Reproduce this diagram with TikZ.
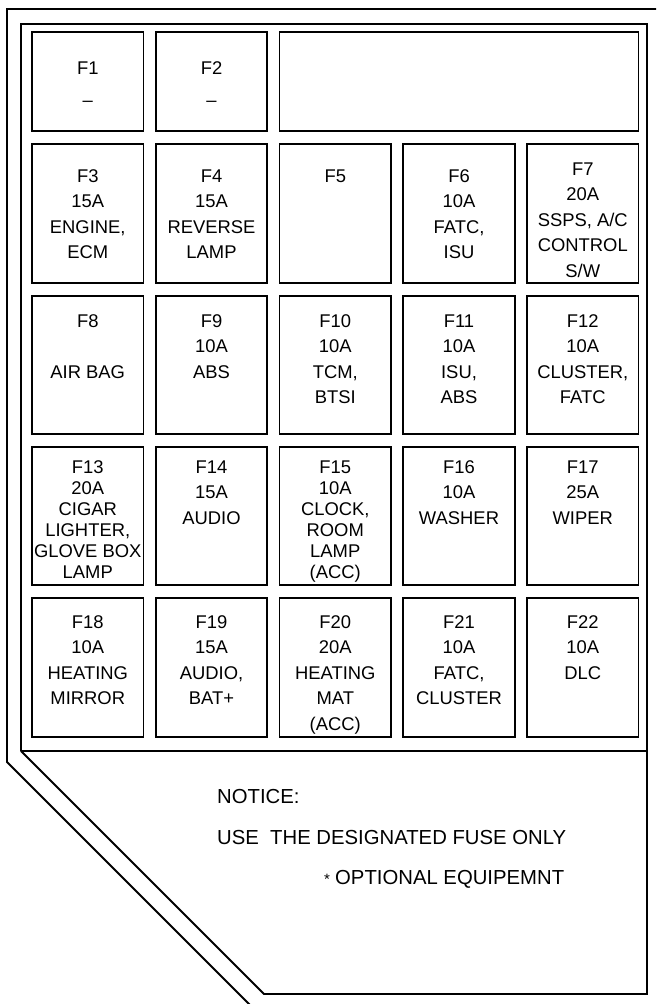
\documentclass[tikz,border=0pt]{standalone}
\usepackage{fontspec}
\setmainfont{Liberation Sans}
\newcommand\fzn{\fontsize{18.4}{25.6}\selectfont}
\newcommand\fzt{\fontsize{18.4}{21}\selectfont}
\newcommand\fzb{\fontsize{20.3}{24}\selectfont}
\newcommand\tl[1]{\begin{tabular}[t]{@{}c@{}}#1\end{tabular}}
\tikzset{
  fusebox/.style={draw, rectangle, line width=1.8pt, inner sep=0pt, outer sep=0pt},
  fusetext/.style={inner sep=0pt, anchor=base, font=\fzn},
  tighttext/.style={inner sep=0pt, anchor=base, font=\fzt},
  noticetext/.style={inner sep=0pt, anchor=base west, font=\fzb},
  frameline/.style={line width=1.8pt, line join=miter}
}
\begin{document}
\begin{tikzpicture}[x=1pt,y=-1pt]
\useasboundingbox (0,0) rectangle (656,1004);
\begin{scope}
\clip (0,0) rectangle (656,1004);
% outer frame
\coordinate (otr) at (700,9);
\coordinate (otl) at (7,9);
\coordinate (obl) at (7,762);
\coordinate (obd) at (290,1045);
\draw[frameline] (otr) -- (otl) -- (obl) -- (obd);
\end{scope}
% inner frame
\coordinate (itl) at (21,24);
\coordinate (itr) at (647,24);
\coordinate (ibr) at (647,994);
\coordinate (ibm) at (264,994);
\coordinate (iml) at (21,751);
\coordinate (imr) at (647,751);
\draw[frameline] (iml) -- (itl) -- (itr) -- (ibr) -- (ibm) -- (iml);
\draw[frameline] (iml) -- (imr);

% row 1
\node[fusebox, minimum width=111.5pt, minimum height=99pt] (f1) at (87.75,81.5) {};
\node[fusebox, minimum width=111.5pt, minimum height=99pt] (f2) at (211.5,81.5) {};
\node[fusebox, minimum width=359pt, minimum height=99pt] (fw) at (459,81.5) {};
\node[fusetext] (t1) at (87.75,74.5) {\tl{F1\\[6.5pt]\textendash}};
\node[fusetext] (t2) at (211.5,74.5) {\tl{F2\\[6.5pt]\textendash}};

% row 2
\node[fusebox, minimum width=111.5pt, minimum height=139pt] (f3) at (87.75,213.5) {};
\node[fusebox, minimum width=111.5pt, minimum height=139pt] (f4) at (211.5,213.5) {};
\node[fusebox, minimum width=111.5pt, minimum height=139pt] (f5) at (335.25,213.5) {};
\node[fusebox, minimum width=111.5pt, minimum height=139pt] (f6) at (459,213.5) {};
\node[fusebox, minimum width=111.5pt, minimum height=139pt] (f7) at (582.75,213.5) {};
\node[fusetext] (t3) at (87.75,182) {\tl{F3\\15A\\ENGINE,\\ECM}};
\node[fusetext] (t4) at (211.5,182) {\tl{F4\\15A\\REVERSE\\LAMP}};
\node[fusetext] (t5) at (335.25,182) {\tl{F5}};
\node[fusetext] (t6) at (459,182) {\tl{F6\\10A\\FATC,\\ISU}};
\node[fusetext] (t7) at (582.75,175) {\tl{F7\\20A\\SSPS, A/C\\CONTROL\\S/W}};

% row 3
\node[fusebox, minimum width=111.5pt, minimum height=138pt] (f8) at (87.75,365) {};
\node[fusebox, minimum width=111.5pt, minimum height=138pt] (f9) at (211.5,365) {};
\node[fusebox, minimum width=111.5pt, minimum height=138pt] (f10) at (335.25,365) {};
\node[fusebox, minimum width=111.5pt, minimum height=138pt] (f11) at (459,365) {};
\node[fusebox, minimum width=111.5pt, minimum height=138pt] (f12) at (582.75,365) {};
\node[fusetext] (t8) at (87.75,327) {\tl{F8\\ \\AIR BAG}};
\node[fusetext] (t9) at (211.5,327) {\tl{F9\\10A\\ABS}};
\node[fusetext] (t10) at (335.25,327) {\tl{F10\\10A\\TCM,\\BTSI}};
\node[fusetext] (t11) at (459,327) {\tl{F11\\10A\\ISU,\\ABS}};
\node[fusetext] (t12) at (582.75,327) {\tl{F12\\10A\\CLUSTER,\\FATC}};

% row 4
\node[fusebox, minimum width=111.5pt, minimum height=138pt] (f13) at (87.75,516) {};
\node[fusebox, minimum width=111.5pt, minimum height=138pt] (f14) at (211.5,516) {};
\node[fusebox, minimum width=111.5pt, minimum height=138pt] (f15) at (335.25,516) {};
\node[fusebox, minimum width=111.5pt, minimum height=138pt] (f16) at (459,516) {};
\node[fusebox, minimum width=111.5pt, minimum height=138pt] (f17) at (582.75,516) {};
\node[tighttext] (t13) at (87.75,473) {\tl{F13\\20A\\CIGAR\\LIGHTER,\\GLOVE BOX\\LAMP}};
\node[fusetext] (t14) at (211.5,473) {\tl{F14\\15A\\AUDIO}};
\node[tighttext] (t15) at (335.25,473) {\tl{F15\\10A\\CLOCK,\\ROOM\\LAMP\\(ACC)}};
\node[fusetext] (t16) at (459,473) {\tl{F16\\10A\\WASHER}};
\node[fusetext] (t17) at (582.75,473) {\tl{F17\\25A\\WIPER}};

% row 5
\node[fusebox, minimum width=111.5pt, minimum height=139pt] (f18) at (87.75,667.5) {};
\node[fusebox, minimum width=111.5pt, minimum height=139pt] (f19) at (211.5,667.5) {};
\node[fusebox, minimum width=111.5pt, minimum height=139pt] (f20) at (335.25,667.5) {};
\node[fusebox, minimum width=111.5pt, minimum height=139pt] (f21) at (459,667.5) {};
\node[fusebox, minimum width=111.5pt, minimum height=139pt] (f22) at (582.75,667.5) {};
\node[fusetext] (t18) at (87.75,628) {\tl{F18\\10A\\HEATING\\MIRROR}};
\node[fusetext] (t19) at (211.5,628) {\tl{F19\\15A\\AUDIO,\\BAT+}};
\node[fusetext] (t20) at (335.25,628) {\tl{F20\\20A\\HEATING\\MAT\\(ACC)}};
\node[fusetext] (t21) at (459,628) {\tl{F21\\10A\\FATC,\\CLUSTER}};
\node[fusetext] (t22) at (582.75,628) {\tl{F22\\10A\\DLC}};

% notice
\node[noticetext] (n1) at (217,803) {NOTICE:};
\node[noticetext] (n2) at (217,844) {USE\ \ THE DESIGNATED FUSE ONLY};
\node[inner sep=0pt, anchor=base, font=\fontsize{15}{18}\selectfont] (ast) at (327,884) {*};
\node[noticetext] (n3) at (335,884) {OPTIONAL EQUIPEMNT};
\end{tikzpicture}
\end{document}
